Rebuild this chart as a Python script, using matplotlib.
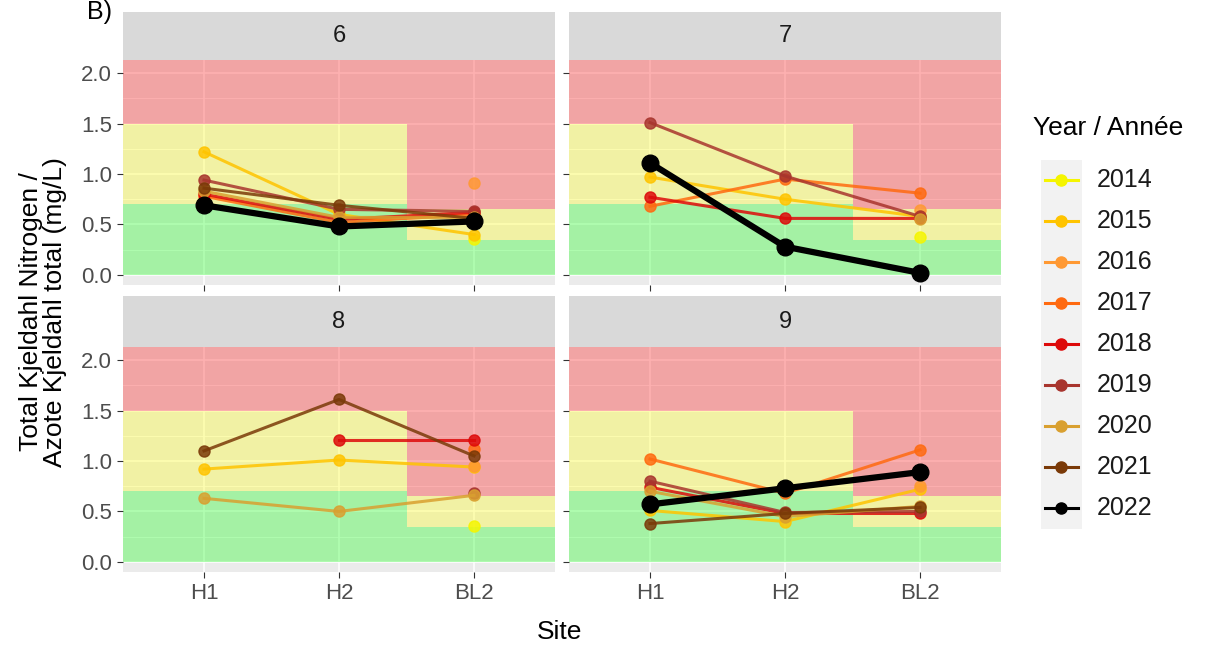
import numpy as np
import matplotlib
matplotlib.use("Agg")
import matplotlib.pyplot as plt
from matplotlib.patches import Rectangle

plt.rcParams["font.family"] = ["Liberation Sans", "DejaVu Sans"]

nan = np.nan

sites = ["H1", "H2", "BL2"]
months = ["6", "7", "8", "9"]
years = ["2014", "2015", "2016", "2017", "2018", "2019", "2020", "2021", "2022"]
year_colors = ["#F5F500", "#FFC400", "#FF9933", "#FF6A10", "#DD0A0A",
               "#A8352E", "#D9A030", "#7A3A08", "#000000"]

# one row per year (2014..2022), values for H1, H2, BL2 (mg/L)
tkn_jun = [
    [nan, nan, 0.36],
    [1.22, 0.60, 0.40],
    [nan, nan, 0.91],
    [0.78, 0.52, 0.60],
    [0.80, 0.55, 0.62],
    [0.94, 0.65, 0.63],
    [0.83, 0.57, 0.57],
    [0.86, 0.69, 0.56],
    [0.69, 0.48, 0.53],
]
tkn_jul = [
    [nan, nan, 0.38],
    [0.97, 0.75, 0.58],
    [nan, nan, 0.64],
    [0.68, 0.95, 0.81],
    [0.77, 0.56, 0.56],
    [1.51, 0.98, 0.58],
    [nan, nan, 0.55],
    [nan, nan, nan],
    [1.11, 0.28, 0.02],
]
tkn_aug = [
    [nan, nan, 0.36],
    [0.92, 1.01, 0.94],
    [nan, nan, 0.95],
    [nan, nan, 1.12],
    [nan, 1.21, 1.21],
    [nan, nan, 0.68],
    [0.63, 0.50, 0.66],
    [1.10, 1.61, 1.05],
    [nan, nan, nan],
]
tkn_sep = [
    [nan, nan, nan],
    [0.51, 0.40, 0.72],
    [nan, nan, 0.75],
    [1.02, 0.68, 1.11],
    [0.74, 0.48, 0.48],
    [0.80, 0.49, 0.50],
    [0.70, 0.45, 0.55],
    [0.38, 0.48, 0.54],
    [0.57, 0.73, 0.89],
]
panels = [tkn_jun, tkn_jul, tkn_aug, tkn_sep]

# guideline bands: (x from, x to, y from, y to, colour)
bands = [
    (0.4, 2.5, 0.0, 0.7, "#00FF00"),
    (0.4, 2.5, 0.7, 1.5, "#FFFF00"),
    (0.4, 2.5, 1.5, 2.2, "#FF0000"),
    (2.5, 3.6, 0.0, 0.35, "#00FF00"),
    (2.5, 3.6, 0.35, 0.65, "#FFFF00"),
    (2.5, 3.6, 0.65, 2.2, "#FF0000"),
]

W, H = 1225, 656


def px(l, t, r, b):
    return [l / W, 1 - b / H, (r - l) / W, (b - t) / H]


fig = plt.figure(figsize=(W / 100, H / 100), dpi=100)
fig.patch.set_facecolor("white")

cols = [(123, 555), (569, 1001)]
rows = [(12, 60, 285), (296, 347, 572)]
x = np.arange(1, 4)

for k, data in enumerate(panels):
    r, c = divmod(k, 2)
    l, rr = cols[c]
    st, pt, pb = rows[r]

    sax = fig.add_axes(px(l, st, rr, pt))
    sax.set_facecolor("#D9D9D9")
    sax.set_xticks([])
    sax.set_yticks([])
    for s in sax.spines.values():
        s.set_visible(False)
    sax.text(0.5, 0.5, months[k], ha="center", va="center", fontsize=17,
             color="#1A1A1A", transform=sax.transAxes)

    ax = fig.add_axes(px(l, pt, rr, pb))
    ax.set_facecolor("#EBEBEB")
    ax.set_xlim(0.4, 3.6)
    ax.set_ylim(-0.1, 2.13)
    ax.set_axisbelow(True)
    ax.set_yticks([0, 0.5, 1.0, 1.5, 2.0])
    ax.set_yticks([0.25, 0.75, 1.25, 1.75], minor=True)
    ax.set_xticks(x)
    ax.grid(which="major", color="white", linewidth=1.1)
    ax.grid(which="minor", axis="y", color="white", linewidth=0.55)
    for s in ax.spines.values():
        s.set_visible(False)
    ax.tick_params(which="minor", length=0)
    ax.tick_params(which="major", length=4, color="#333333",
                   labelcolor="#4D4D4D", labelsize=16, pad=4)
    if c == 0:
        ax.set_yticklabels(["0.0", "0.5", "1.0", "1.5", "2.0"])
    else:
        ax.set_yticklabels([])
    if r == 1:
        ax.set_xticklabels(sites)
    else:
        ax.set_xticklabels([])

    for x0, x1, y0, y1, col in bands:
        ax.add_patch(Rectangle((x0, y0), x1 - x0, y1 - y0, facecolor=col,
                               alpha=0.3, edgecolor="none", zorder=1))

    for i, yr in enumerate(years):
        vals = np.array(data[i], dtype=float)
        if np.all(np.isnan(vals)):
            continue
        if yr == "2022":
            ax.plot(x, vals, color=year_colors[i], lw=4.5, marker="o",
                    markersize=12, zorder=5)
        else:
            ax.plot(x, vals, color=year_colors[i], lw=2.2, alpha=0.85,
                    marker="o", markersize=8, zorder=3)

# axis titles
fig.text(560 / W, 1 - 632 / H, "Site", ha="center", va="center", fontsize=19)
fig.text(43 / W, 1 - 312 / H, "Total Kjeldahl Nitrogen /\nAzote Kjeldahl total (mg/L)",
         ha="center", va="center", rotation=90, fontsize=19, linespacing=1.0)
fig.text(87 / W, 1 - 12 / H, "B)", ha="left", va="center", fontsize=18)

# legend
lax = fig.add_axes(px(1025, 100, 1225, 540))
lax.set_xlim(1025, 1225)
lax.set_ylim(540, 100)
lax.axis("off")
lax.text(1033, 128, "Year / Année", ha="left", va="center", fontsize=19)
lax.add_patch(Rectangle((1041, 160), 41, 369, facecolor="#F2F2F2", edgecolor="none"))
for i, yr in enumerate(years):
    yy = 180 + i * 41
    lax.plot([1045, 1078], [yy, yy], color=year_colors[i], lw=2.2)
    lax.plot([1061], [yy], "o", color=year_colors[i], markersize=8)
    lax.text(1097, yy, yr, ha="left", va="center", fontsize=18, color="#1A1A1A")

fig.savefig("out.png", dpi=100)
